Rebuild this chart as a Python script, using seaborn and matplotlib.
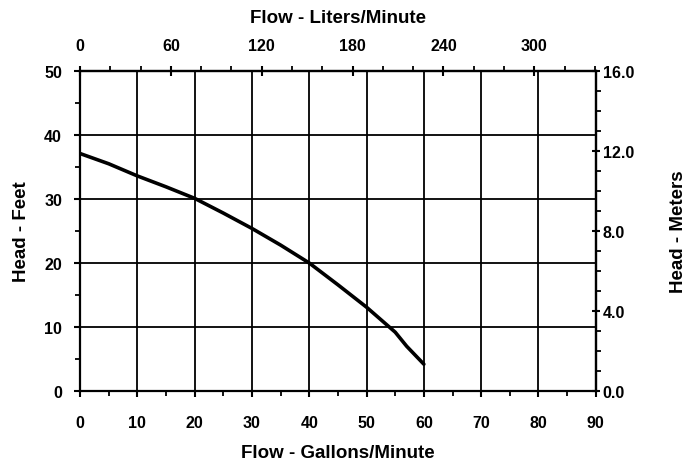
import numpy as np
import pandas as pd
import matplotlib
matplotlib.use("Agg")
import matplotlib.pyplot as plt
import seaborn as sns
from matplotlib.ticker import MultipleLocator

# pump curve
flow_gpm = [0, 5, 10, 15, 20, 25, 30, 35, 40, 45, 50, 55, 57, 60]
head_ft = [37.1, 35.5, 33.6, 31.9, 30.1, 27.8, 25.4, 22.8, 20.0, 16.6, 13.1, 9.2, 7.0, 4.2]

gpm_ticks = [0, 10, 20, 30, 40, 50, 60, 70, 80, 90]
ft_ticks = [0, 10, 20, 30, 40, 50]
lpm_ticks = [0, 60, 120, 180, 240, 300]
m_ticks = [0, 4, 8, 12, 16]

GPM_TO_LPM = 3.785
FT_TO_M = 16 / 50  # right scale in the chart is stretched 0-16 over 0-50 ft

TICK_FS = 11.5
LABEL_FS = 13.5

sns.set_style("white")
plt.rcParams["font.family"] = ["Liberation Sans", "DejaVu Sans"]
plt.rcParams["font.weight"] = "bold"
plt.rcParams["text.color"] = "black"
plt.rcParams["axes.labelcolor"] = "black"
plt.rcParams["xtick.color"] = "black"
plt.rcParams["ytick.color"] = "black"

df = pd.DataFrame({"gpm": flow_gpm, "ft": head_ft})

fig = plt.figure(figsize=(6.96, 4.64), dpi=100)
ax = fig.add_axes([0.115, 0.155, 0.741, 0.69])

sns.lineplot(data=df, x="gpm", y="ft", color="black", linewidth=2.6, ax=ax)

ax.set_xlim(0, 90)
ax.set_ylim(0, 50)
ax.set_xticks(gpm_ticks)
ax.set_yticks(ft_ticks)
ax.xaxis.set_minor_locator(MultipleLocator(5))
ax.yaxis.set_minor_locator(MultipleLocator(5))
ax.grid(True, which="major", color="black", linewidth=1.3)
ax.set_axisbelow(True)
for s in ax.spines.values():
    s.set_color("black")
    s.set_linewidth(1.6)

ax.tick_params(axis="x", which="major", direction="out", length=4, width=1.5, colors="black",
               labelsize=TICK_FS, pad=13, bottom=True)
ax.tick_params(axis="y", which="major", direction="out", length=4, width=1.5, colors="black",
               labelsize=TICK_FS, pad=9, left=True)
ax.tick_params(which="minor", direction="out", length=3.5, width=1.3, color="black",
               bottom=True, left=True)
for lab in ax.get_xticklabels() + ax.get_yticklabels():
    lab.set_fontweight("bold")

ax.set_xlabel("Flow - Gallons/Minute", fontsize=LABEL_FS, fontweight="bold", labelpad=10,
              color="black")
ax.set_ylabel("Head - Feet", fontsize=LABEL_FS, fontweight="bold", labelpad=10, color="black")

# top axis: liters per minute
top = ax.secondary_xaxis("top", functions=(lambda g: g * GPM_TO_LPM, lambda l: l / GPM_TO_LPM))
top.set_xticks(lpm_ticks)
top.xaxis.set_minor_locator(MultipleLocator(20))
top.tick_params(which="major", direction="inout", length=6.5, width=1.5, colors="black",
                labelsize=TICK_FS, pad=9.5)
top.tick_params(which="minor", direction="out", length=3.5, width=1.3, color="black")
top.spines["top"].set_linewidth(1.6)
for lab in top.get_xticklabels():
    lab.set_fontweight("bold")
top.set_xlabel("Flow - Liters/Minute", fontsize=LABEL_FS, fontweight="bold", labelpad=11.5,
               color="black")

# right axis: meters
right = ax.secondary_yaxis("right", functions=(lambda f: f * FT_TO_M, lambda m: m / FT_TO_M))
right.set_yticks(m_ticks)
right.set_yticklabels([f"{v:.1f}" for v in m_ticks])
right.yaxis.set_minor_locator(MultipleLocator(1))
right.tick_params(which="major", direction="inout", length=6, width=1.5, colors="black",
                  labelsize=TICK_FS, pad=2)
right.tick_params(which="minor", direction="out", length=3.5, width=1.3, color="black")
right.spines["right"].set_linewidth(1.6)
for lab in right.get_yticklabels():
    lab.set_fontweight("bold")
right.set_ylabel("Head - Meters", fontsize=LABEL_FS, fontweight="bold", labelpad=26,
                 color="black")

fig.savefig("out.png", dpi=100)
